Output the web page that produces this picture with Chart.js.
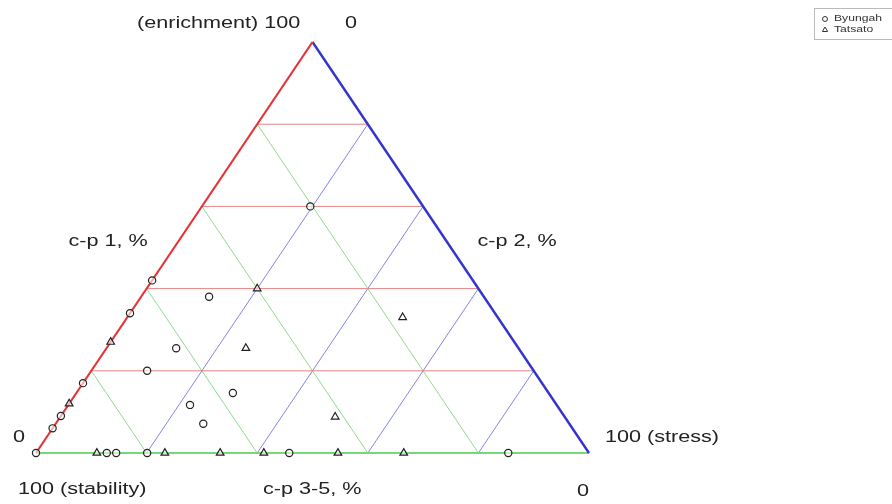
<!DOCTYPE html>
<html><head><meta charset="utf-8">
<script src="https://cdn.jsdelivr.net/npm/chart.js@4"></script>
<style>html,body{margin:0;padding:0;background:#fff}</style>
</head><body>
<canvas id="c" width="892" height="504"></canvas>
<script>
// ---- data (ternary compositions, %): c-p 1 and c-p 2 (c-p 3-5 = 100 - both) ----
const seriesNames = ['Byungah', 'Tatsato'];
const circleCp1 = [42, 34, 17, 9, 6, 0, 38, 60, 25.5, 20, 14.6, 11.7, 7.1, 0, 0, 0, 0, 0];
const circleCp2 = [0, 0, 0, 0, 0, 0, 12.3, 19.6, 12.6, 10.1, 28.3, 22, 26.7, 12.8, 14.5, 20.1, 45.8, 85.4];
const triangleCp1 = [27, 12, 40, 25.5, 33, 8.8, 0, 0, 0, 0, 0, 0];
const triangleCp2 = [0, 0, 20, 25.2, 49.8, 49.7, 11, 23.3, 33.3, 41.2, 54.6, 66.5];
const gridTicks = [20, 40, 60, 80];

// ternary -> cartesian in axis units
function tern(cp1, cp2) { return { x: cp2 + cp1 / 2, y: cp1 }; }
function pts(a1, a2) { return a1.map((v, i) => tern(v, a2[i])); }

const gridSets = [];
gridTicks.forEach(t => {
  gridSets.push({ data: [tern(t, 0), tern(t, 100 - t)], color: 'rgba(225,110,110,0.85)' });      // c-p1 = t
  gridSets.push({ data: [tern(100 - t, 0), tern(0, 100 - t)], color: 'rgba(130,215,130,0.9)' });  // c-p3-5 = t
  gridSets.push({ data: [tern(0, t), tern(100 - t, t)], color: 'rgba(120,120,225,0.9)' });        // c-p2 = t
});
const edges = [
  { data: [tern(0, 0), tern(100, 0)], color: 'rgb(228,52,58)', w: 2.2 },
  { data: [tern(100, 0), tern(0, 100)], color: 'rgb(52,52,205)', w: 2.4 },
  { data: [tern(0, 0), tern(0, 100)], color: 'rgb(120,215,120)', w: 2.2 }
];

const datasets = [];
gridSets.forEach(g => datasets.push({ data: g.data, showLine: true, borderColor: g.color, borderWidth: 1, pointRadius: 0, clip: false, order: 3 }));
edges.forEach(e => datasets.push({ data: e.data, showLine: true, borderColor: e.color, borderWidth: e.w, pointRadius: 0, clip: false, order: 2 }));
datasets.push({ label: seriesNames[0], data: pts(circleCp1, circleCp2), pointStyle: 'circle', pointRadius: 3.6, borderColor: '#222', backgroundColor: 'rgba(255,255,255,0.6)', borderWidth: 1.2, clip: false, order: 0 });
datasets.push({ label: seriesNames[1], data: pts(triangleCp1, triangleCp2), pointStyle: 'triangle', pointRadius: 4.4, borderColor: '#222', backgroundColor: 'rgba(255,255,255,0.6)', borderWidth: 1.2, clip: false, order: 0 });

const SX = 1.35;
function txt(ctx, s, x, y, align, size, color) {
  ctx.save();
  ctx.font = size + 'px "Liberation Sans", Arial, sans-serif';
  ctx.textBaseline = 'middle';
  ctx.textAlign = 'left';
  ctx.fillStyle = color || '#222';
  const w = ctx.measureText(s).width * SX;
  const x0 = align === 'center' ? x - w / 2 : align === 'right' ? x - w : x;
  ctx.translate(x0, y); ctx.scale(SX, 1); ctx.fillText(s, 0, 0);
  ctx.restore();
}

const labelPlugin = {
  id: 'labels',
  afterDraw(chart) {
    const ctx = chart.ctx;
    txt(ctx, '(enrichment) 100', 137, 24, 'left', 16);
    txt(ctx, '0', 351, 24, 'center', 16);
    txt(ctx, 'c-p 1, %', 108, 242, 'center', 16);
    txt(ctx, 'c-p 2, %', 517, 242, 'center', 16);
    txt(ctx, '0', 19, 438, 'center', 16);
    txt(ctx, '100 (stress)', 605, 438, 'left', 16);
    txt(ctx, '100 (stability)', 18, 490, 'left', 16);
    txt(ctx, 'c-p 3-5, %', 263, 490, 'left', 16);
    txt(ctx, '0', 583, 492, 'center', 16);
    // legend
    ctx.save();
    ctx.strokeStyle = '#bbb'; ctx.lineWidth = 1;
    ctx.strokeRect(814.5, 8.5, 90, 31);
    ctx.strokeStyle = '#333'; ctx.fillStyle = '#fff';
    Chart.helpers.drawPoint(ctx, { pointStyle: 'circle', radius: 2.5, borderWidth: 1 }, 825, 19);
    Chart.helpers.drawPoint(ctx, { pointStyle: 'triangle', radius: 3, borderWidth: 1 }, 825, 30);
    ctx.restore();
    txt(ctx, seriesNames[0], 834, 19, 'left', 9, '#333');
    txt(ctx, seriesNames[1], 834, 30, 'left', 9, '#333');
  }
};

new Chart(document.getElementById('c'), {
  type: 'scatter',
  data: { datasets },
  options: {
    responsive: false,
    animation: false,
    layout: { padding: { left: 36, right: 303, top: 42, bottom: 51 } },
    scales: {
      x: { type: 'linear', min: 0, max: 100, display: false },
      y: { type: 'linear', min: 0, max: 100, display: false }
    },
    plugins: { legend: { display: false }, tooltip: { enabled: false } }
  },
  plugins: [labelPlugin]
});
</script>
</body></html>
